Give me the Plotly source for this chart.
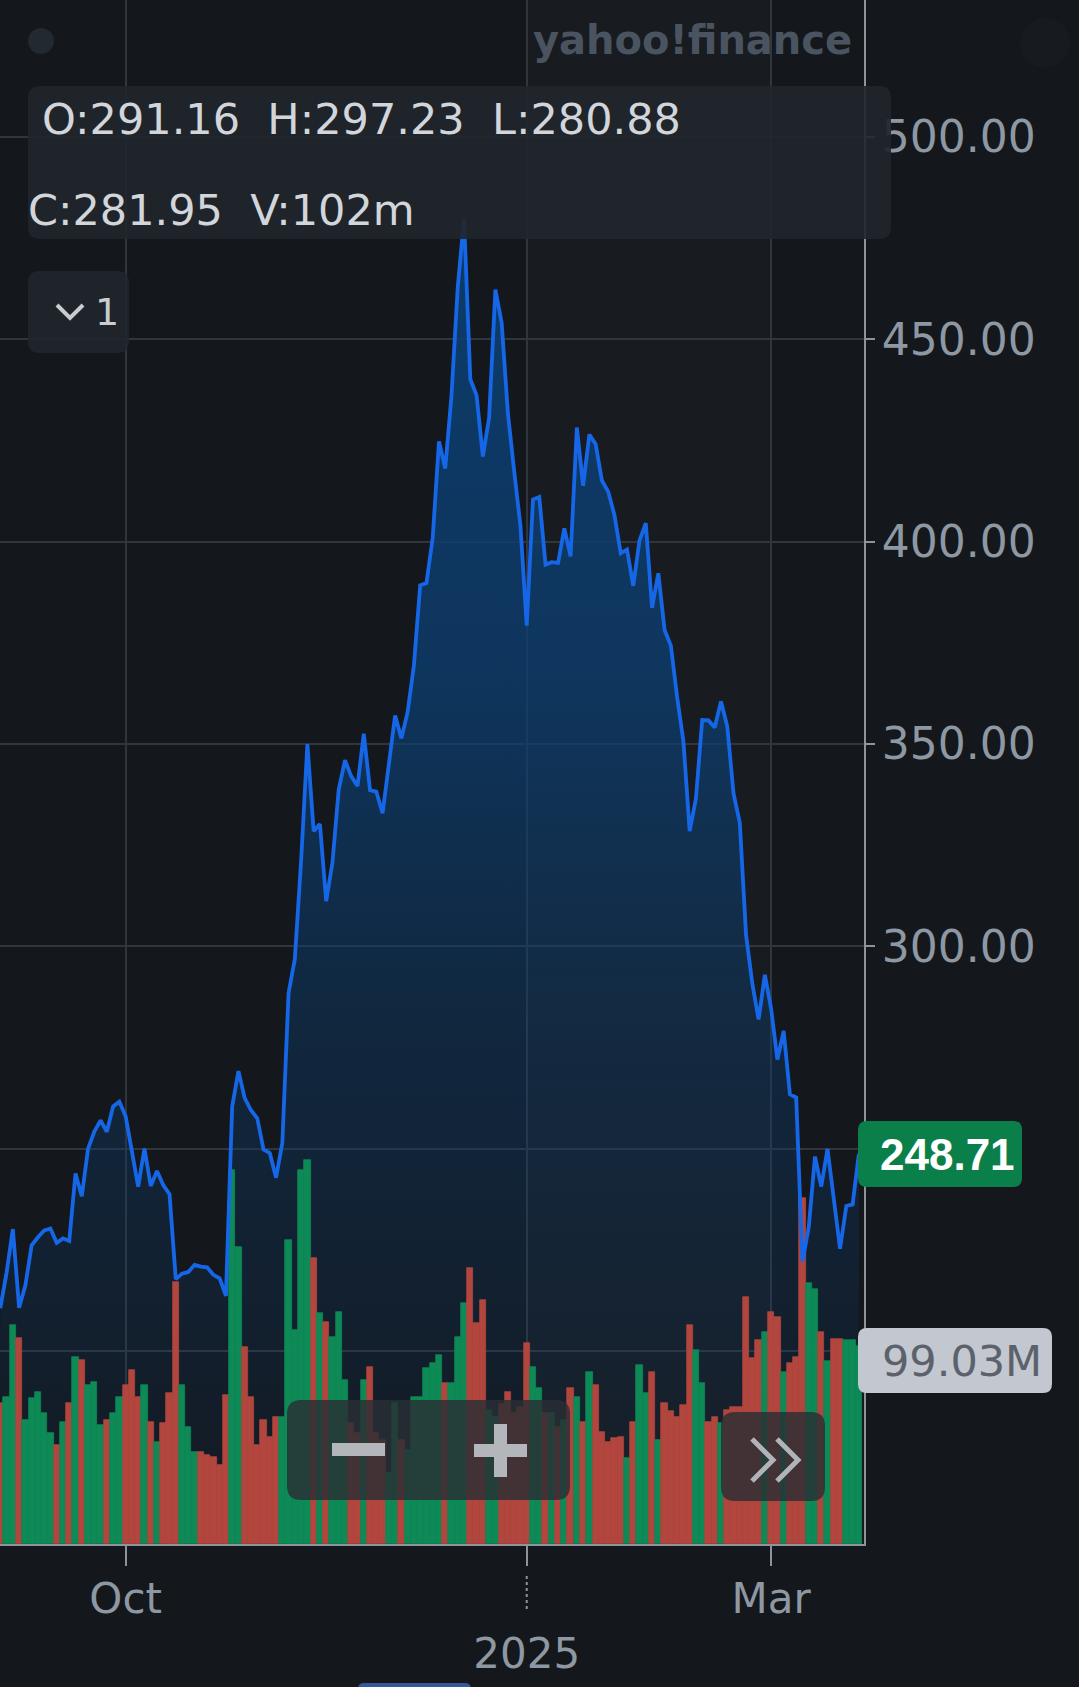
import plotly.graph_objects as go

# ---------------- data ----------------
dates = (
    ["2024-09-%02d" % d for d in [3, 4, 5, 6, 9, 10, 11, 12, 13, 16, 17, 18, 19, 20, 23, 24, 25, 26, 27, 30]]
    + ["2024-10-%02d" % d for d in [1, 2, 3, 4, 7, 8, 9, 10, 11, 14, 15, 16, 17, 18, 21, 22, 23, 24, 25, 28, 29, 30, 31]]
    + ["2024-11-%02d" % d for d in [1, 4, 5, 6, 7, 8, 11, 12, 13, 14, 15, 18, 19, 20, 21, 22, 25, 26, 27, 29]]
    + ["2024-12-%02d" % d for d in [2, 3, 4, 5, 6, 9, 10, 11, 12, 13, 16, 17, 18, 19, 20, 23, 24, 26, 27, 30, 31]]
    + ["2025-01-%02d" % d for d in [2, 3, 6, 7, 8, 10, 13, 14, 15, 16, 17, 21, 22, 23, 24, 27, 28, 29, 30, 31]]
    + ["2025-02-%02d" % d for d in [3, 4, 5, 6, 7, 10, 11, 12, 13, 14, 18, 19, 20, 21, 24, 25, 26, 27, 28]]
    + ["2025-03-%02d" % d for d in [3, 4, 5, 6, 7, 10, 11, 12, 13, 14, 17, 18, 19, 20, 21]]
)

closes = [
    210.60, 219.41, 230.17, 210.73, 216.27, 226.17, 228.13, 229.81, 230.29, 226.78,
    227.87, 227.20, 243.92, 238.25, 250.00, 254.27, 257.02, 254.22, 260.46, 261.63,
    258.02, 249.02, 240.66, 250.08, 240.83, 244.50, 241.05, 238.77, 217.80, 219.16,
    219.57, 221.33, 220.89, 220.70, 218.85, 217.97, 213.65, 260.48, 269.19, 262.51,
    259.52, 257.55, 249.85,
    248.98, 242.84, 251.44, 288.53, 296.91, 321.22, 350.00, 328.49, 330.24, 311.18,
    320.72, 338.74, 346.00, 342.03, 339.64, 352.56, 338.59, 338.23, 332.89, 345.16,
    357.09, 351.42, 357.93, 369.49, 389.22, 389.79, 400.99, 424.77, 418.10, 436.23,
    463.02, 479.86, 440.13, 436.17, 421.06, 430.60, 462.28, 454.13, 431.66, 417.41, 403.84,
    379.28, 410.44, 411.05, 394.36, 394.94, 394.74, 403.31, 396.36, 428.22, 413.82,
    426.50, 424.07, 415.11, 412.38, 406.58, 397.15, 398.09, 389.10, 400.28, 404.60,
    383.68, 392.21, 378.17, 374.32, 361.62, 350.73, 328.50, 336.51, 355.94, 355.84,
    354.11, 360.56, 354.40, 337.80, 330.53, 302.80, 290.80, 281.95, 292.98,
    284.65, 272.04, 279.10, 263.45, 262.67, 222.15, 230.58, 248.09, 240.68, 249.98,
    238.01, 225.31, 235.86, 236.26, 248.71,
]

volumes_m = [
    70.5, 73.5, 109.5, 103, 62, 73, 76, 65.5, 55.5, 49.5,
    61, 70.5, 93.5, 92, 79.5, 81, 59.5, 62, 65.5, 73.5,
    79.5, 87, 73.5, 79.5, 61, 51, 60.5, 75.5, 131, 79.5,
    58.5, 46, 46, 44.5, 43.5, 39.5, 74.5, 187, 148.5, 98.5,
    73.5, 49.5, 62, 53.5, 63.5, 63.5, 152, 107, 187, 192,
    143, 115.5, 111, 103.5, 116, 82, 60.5, 55.5, 82, 88.5,
    55.5, 52, 35.5, 70.5, 52, 47, 73.5, 73.5, 88, 90.5,
    94.5, 80.5, 80.5, 103.5, 120.5, 138, 110.5, 122, 67, 63.5,
    70, 76, 65.5, 68.5, 100.5, 88.5, 78, 65.5, 65.5, 58.5,
    62, 78, 73.5, 61, 86, 79.5, 56, 51, 53, 53.5,
    43, 61, 89.5, 75.5, 86, 52, 70.5, 66.5, 63.5, 69.5,
    109.5, 97, 80.5, 61, 63.5, 60.5, 67, 68.5, 68.5, 123.5,
    93, 102, 106, 116, 113.5, 86, 90.5, 93.5, 173, 130.5,
    127.5, 106, 91.5, 102.5, 102.5, 102, 102, 99.03,
]

prev_close = 214.11          # close before the first day, colours the first volume bar
price_ticks = [200, 250, 300, 350, 400, 450, 500]
# 200 and 250 sit behind the volume / last-price tags, so their labels are not shown
price_tick_labels = ["", "", "300.00", "350.00", "400.00", "450.00", "500.00"]
x_tick_dates = ["2024-10-01", "2025-01-02", "2025-03-03"]
x_tick_labels = ["Oct", "<br>2025", "Mar"]
ohlc_line1 = "O:291.16  H:297.23  L:280.88"
ohlc_line2 = "C:281.95  V:102m"
last_price = closes[-1]
last_volume = volumes_m[-1]

# ---------------- styling / geometry ----------------
W, H = 1079, 1687
PW, PH = 864, 1544                 # plot area in px (from top-left)
Y_RANGE = [152.35, 533.85]
V_RANGE = [0, 772]
X_RANGE = [-0.05, 137.82]
BG = "#14171c"
GRID = "#30363d"
AXIS = "#8d949c"
LABEL = "#8e98a3"
UP, DOWN = "#0e8a57", "#b2463e"
LINE = "#1667e8"
PANEL = "rgba(33,38,45,0.92)"

px_per_unit = PH / (Y_RANGE[1] - Y_RANGE[0])
px_per_vol = PH / (V_RANGE[1] - V_RANGE[0])


def pxx(x):
    return x / PW


def pxy(y):
    return 1 - y / PH


def rrect(x0, y0, x1, y1, r, fx=pxx, fy=pxy):
    return (
        f"M {fx(x0 + r)},{fy(y0)} L {fx(x1 - r)},{fy(y0)} Q {fx(x1)},{fy(y0)} {fx(x1)},{fy(y0 + r)} "
        f"L {fx(x1)},{fy(y1 - r)} Q {fx(x1)},{fy(y1)} {fx(x1 - r)},{fy(y1)} "
        f"L {fx(x0 + r)},{fy(y1)} Q {fx(x0)},{fy(y1)} {fx(x0)},{fy(y1 - r)} "
        f"L {fx(x0)},{fy(y0 + r)} Q {fx(x0)},{fy(y0)} {fx(x0 + r)},{fy(y0)} Z"
    )


prevs = [prev_close] + closes[:-1]
bar_colors = [UP if c >= p else DOWN for c, p in zip(closes, prevs)]

fig = go.Figure()

# area fill (bottom layer)
fig.add_trace(go.Scatter(
    x=dates, y=closes, mode="lines", line=dict(width=0, color="rgba(0,0,0,0)"),
    fill="tozeroy",
    fillgradient=dict(
        type="vertical", start=Y_RANGE[0], stop=480,
        colorscale=[[0, "rgba(12,62,112,0.06)"], [0.4, "rgba(12,62,112,0.42)"],
                    [0.65, "rgba(12,62,112,0.76)"], [1, "rgba(12,62,112,0.94)"]],
    ),
    yaxis="y", hoverinfo="skip", showlegend=False,
))

# volume bars
fig.add_trace(go.Bar(
    x=dates, y=volumes_m, marker=dict(color=bar_colors, line=dict(width=0.7, color=bar_colors)),
    yaxis="y2", hoverinfo="skip", showlegend=False,
))

# price line on top
fig.add_trace(go.Scatter(
    x=dates, y=closes, mode="lines", line=dict(color=LINE, width=3.8),
    yaxis="y3", hoverinfo="skip", showlegend=False,
))

tick_font = dict(family="DejaVu Sans", size=42, color=LABEL)

fig.update_layout(
    width=W, height=H, autosize=False,
    margin=dict(l=0, r=W - PW, t=0, b=H - PH, pad=0),
    paper_bgcolor=BG, plot_bgcolor=BG,
    bargap=0, showlegend=False,
    xaxis=dict(
        type="category", range=X_RANGE,
        tickmode="array", tickvals=x_tick_dates, ticktext=x_tick_labels,
        ticks="outside", ticklen=20, tickwidth=2, tickcolor=AXIS,
        showline=True, linecolor=AXIS, linewidth=2,
        showgrid=True, gridcolor=GRID, gridwidth=2, zeroline=False,
        tickfont=tick_font, tickangle=0, ticklabelstandoff=-3,
    ),
    yaxis=dict(
        side="right", range=Y_RANGE, tickmode="array", tickvals=price_ticks,
        ticktext=price_tick_labels, ticks="outside", ticklen=9, tickwidth=2, tickcolor=AXIS,
        showline=True, linecolor=AXIS, linewidth=2,
        showgrid=True, gridcolor=GRID, gridwidth=2, zeroline=False,
        tickfont=dict(family="DejaVu Sans", size=44, color=LABEL), ticklabelstandoff=-2,
    ),
    yaxis2=dict(overlaying="y", range=V_RANGE, visible=False, showgrid=False),
    yaxis3=dict(overlaying="y", range=Y_RANGE, visible=False, showgrid=False),
)

shapes = []
# subtle lighter band between the 2025 and Mar gridlines
shapes.append(dict(type="rect", xref="x", yref="paper", x0=x_tick_dates[1], x1=x_tick_dates[2],
                   y0=0, y1=1, fillcolor="rgba(255,255,255,0.018)", line=dict(width=0), layer="below"))
# dotted extension under the 2025 tick
shapes.append(dict(type="line", xref="x", yref="paper", x0=x_tick_dates[1], x1=x_tick_dates[1],
                   y0=pxy(1576), y1=pxy(1612), line=dict(color=AXIS, width=2, dash="dot")))
# top-left dot and faint top-right circle
shapes.append(dict(type="circle", xref="paper", yref="paper", x0=pxx(28), x1=pxx(54), y0=pxy(28), y1=pxy(54),
                   fillcolor="#232930", line=dict(width=0)))
shapes.append(dict(type="circle", xref="paper", yref="paper", x0=pxx(1020), x1=pxx(1070), y0=pxy(18), y1=pxy(68),
                   fillcolor="#171a1f", line=dict(width=0)))
# OHLC panel
shapes.append(dict(type="path", xref="paper", yref="paper", path=rrect(28, 86, 891, 239, 12),
                   fillcolor=PANEL, line=dict(width=0)))
# indicator chip
shapes.append(dict(type="path", xref="paper", yref="paper", path=rrect(28, 271, 129, 353, 12),
                   fillcolor=PANEL, line=dict(width=0)))
shapes.append(dict(type="path", xref="paper", yref="paper",
                   path=f"M {pxx(57)},{pxy(305)} L {pxx(70)},{pxy(318)} L {pxx(83)},{pxy(305)}",
                   line=dict(color="#c9cdd2", width=4)))
# zoom controls
shapes.append(dict(type="path", xref="paper", yref="paper", path=rrect(287, 1400, 570, 1500, 14),
                   fillcolor="rgba(42,46,53,0.82)", line=dict(width=0)))
shapes.append(dict(type="rect", xref="paper", yref="paper", x0=pxx(332), x1=pxx(385), y0=pxy(1443), y1=pxy(1456),
                   fillcolor="#b3b7bc", line=dict(width=0)))
shapes.append(dict(type="rect", xref="paper", yref="paper", x0=pxx(474), x1=pxx(527), y0=pxy(1444), y1=pxy(1457),
                   fillcolor="#b3b7bc", line=dict(width=0)))
shapes.append(dict(type="rect", xref="paper", yref="paper", x0=pxx(494), x1=pxx(507), y0=pxy(1424), y1=pxy(1477),
                   fillcolor="#b3b7bc", line=dict(width=0)))
shapes.append(dict(type="path", xref="paper", yref="paper", path=rrect(721, 1412, 825, 1501, 14),
                   fillcolor="rgba(42,46,53,0.82)", line=dict(width=0)))
for ox in (752, 777):
    shapes.append(dict(type="path", xref="paper", yref="paper",
                       path=f"M {pxx(ox)},{pxy(1439)} L {pxx(ox + 21)},{pxy(1460)} L {pxx(ox)},{pxy(1481)}",
                       line=dict(color="#b0b4b8", width=5)))
# last price tag (y in price units)
fy_price = lambda d: last_price - d / px_per_unit
shapes.append(dict(type="path", xref="paper", yref="y",
                   path=rrect(858, -33, 1022, 33, 9, fy=fy_price),
                   fillcolor="#0b7f4a", line=dict(width=0)))
# last volume tag (y in volume units)
VOL_TAG_SHIFT = 15
fy_vol = lambda d: last_volume - (d + VOL_TAG_SHIFT) / px_per_vol
shapes.append(dict(type="path", xref="paper", yref="y2",
                   path=rrect(858, -33, 1052, 32, 9, fy=fy_vol),
                   fillcolor="#c3c7cf", line=dict(width=0)))
# bottom blue tab
shapes.append(dict(type="path", xref="paper", yref="paper", path=rrect(358, 1683, 471, 1700, 6),
                   fillcolor="#34589b", line=dict(width=0)))
for s in shapes:
    s.setdefault("layer", "above")
fig.update_layout(shapes=shapes)

ann = []
ann.append(dict(text="yahoo!finance", xref="paper", yref="paper", x=pxx(692), y=pxy(40),
                xanchor="center", yanchor="middle", showarrow=False,
                font=dict(family="DejaVu Sans", size=40, color="#4a5460", weight="bold")))
ann.append(dict(text=ohlc_line1, xref="paper", yref="paper", x=pxx(40), y=pxy(119),
                xanchor="left", yanchor="middle", showarrow=False,
                font=dict(family="DejaVu Sans", size=43, color="#d2d6db")))
ann.append(dict(text=ohlc_line2, xref="paper", yref="paper", x=pxx(26), y=pxy(210),
                xanchor="left", yanchor="middle", showarrow=False,
                font=dict(family="DejaVu Sans", size=43, color="#d2d6db")))
ann.append(dict(text="1", xref="paper", yref="paper", x=pxx(107), y=pxy(312),
                xanchor="center", yanchor="middle", showarrow=False,
                font=dict(family="DejaVu Sans", size=38, color="#c9cdd2")))
ann.append(dict(text=f"{last_price:.2f}", xref="paper", yref="y", x=pxx(947), y=last_price,
                xanchor="center", yanchor="middle", showarrow=False,
                font=dict(family="Liberation Sans", size=44, color="#ffffff", weight="bold")))
ann.append(dict(text=f"{last_volume:.2f}M", xref="paper", yref="y2", x=pxx(962), y=last_volume,
                yshift=-VOL_TAG_SHIFT, xanchor="center", yanchor="middle", showarrow=False,
                font=dict(family="DejaVu Sans", size=43, color="#5b626c")))
fig.update_layout(annotations=ann)

fig.write_html("out.html", config={"displayModeBar": False},
               post_script="document.body.style.margin='0';document.body.style.background='%s';" % BG)
